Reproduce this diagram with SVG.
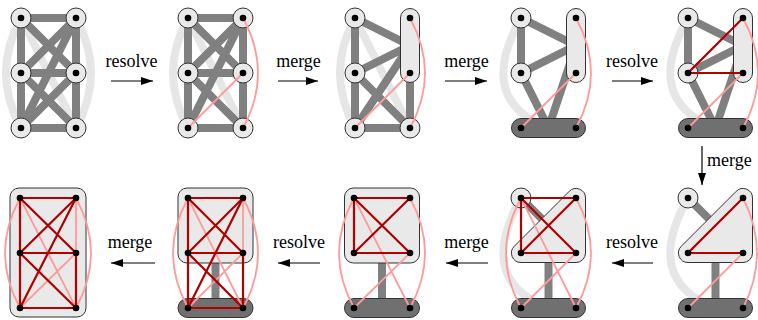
<svg xmlns="http://www.w3.org/2000/svg" width="758" height="320" viewBox="0 0 758 320">
<style>
.g{stroke:#808080;stroke-width:8;fill:none}
.lg{stroke:#e6e6e6;stroke-width:8;fill:none}
.pk{stroke:#ff9a9a;stroke-width:1.8;fill:none}
.rd{stroke:#b00000;stroke-width:2.2;fill:none}
.nd{fill:#e9e9e9;stroke:#333;stroke-width:1}
.dk{fill:#707070;stroke:#333;stroke-width:1}
.dot{fill:#000}
.ar{stroke:#000;stroke-width:1.2;fill:none}
.lb{font-family:"Liberation Serif","Times New Roman",serif;font-size:18px;fill:#000}
</style>
<defs>
<marker id="ah" markerWidth="12" markerHeight="8" refX="12" refY="4" orient="auto" markerUnits="userSpaceOnUse"><path d="M0,0 L12,4 L0,8 Z" fill="#000"/></marker>
</defs>

<!-- labels and arrows -->
<g id="steps">
<text class="lb" x="131.5" y="67" text-anchor="middle">resolve</text>
<line class="ar" x1="111" y1="81" x2="153" y2="81" marker-end="url(#ah)"/>
<text class="lb" x="298.5" y="67" text-anchor="middle">merge</text>
<line class="ar" x1="278" y1="81" x2="318" y2="81" marker-end="url(#ah)"/>
<text class="lb" x="466.5" y="67" text-anchor="middle">merge</text>
<line class="ar" x1="445" y1="81" x2="487" y2="81" marker-end="url(#ah)"/>
<text class="lb" x="632" y="67" text-anchor="middle">resolve</text>
<line class="ar" x1="612" y1="81" x2="653" y2="81" marker-end="url(#ah)"/>
<text class="lb" x="707" y="166">merge</text>
<line class="ar" x1="702" y1="146" x2="702" y2="185" marker-end="url(#ah)"/>
<text class="lb" x="632" y="248" text-anchor="middle">resolve</text>
<line class="ar" x1="653" y1="263" x2="612" y2="263" marker-end="url(#ah)"/>
<text class="lb" x="466.5" y="248" text-anchor="middle">merge</text>
<line class="ar" x1="488" y1="263" x2="446" y2="263" marker-end="url(#ah)"/>
<text class="lb" x="299" y="248" text-anchor="middle">resolve</text>
<line class="ar" x1="320" y1="263" x2="278" y2="263" marker-end="url(#ah)"/>
<text class="lb" x="130" y="248" text-anchor="middle">merge</text>
<line class="ar" x1="155" y1="263" x2="111" y2="263" marker-end="url(#ah)"/>
</g>

<!-- Panel 1 -->
<g id="p1-edges">
<path class="lg" d="M21,18 Q-9,73 21,128"/>
<path class="lg" d="M76,18 Q106,73 76,128"/>
<path class="lg" d="M21,18 L76,128"/>
<path class="g" d="M21,18 L76,18 M21,18 L21,128 M76,18 L76,128 M21,128 L76,128 M21,73 L76,73 M21,18 L76,73 M76,18 L21,73 M21,73 L76,128 M76,73 L21,128 M76,18 L21,128"/>
</g>
<g id="p1-TL"><circle class="nd" cx="21" cy="18" r="10"/><circle class="dot" cx="21" cy="18" r="3.3"/></g>
<g id="p1-TR"><circle class="nd" cx="76" cy="18" r="10"/><circle class="dot" cx="76" cy="18" r="3.3"/></g>
<g id="p1-ML"><circle class="nd" cx="21" cy="73" r="10"/><circle class="dot" cx="21" cy="73" r="3.3"/></g>
<g id="p1-MR"><circle class="nd" cx="76" cy="73" r="10"/><circle class="dot" cx="76" cy="73" r="3.3"/></g>
<g id="p1-BL"><circle class="nd" cx="21" cy="128" r="10"/><circle class="dot" cx="21" cy="128" r="3.3"/></g>
<g id="p1-BR"><circle class="nd" cx="76" cy="128" r="10"/><circle class="dot" cx="76" cy="128" r="3.3"/></g>

<!-- Panel 2 -->
<g id="p2-edges">
<path class="lg" d="M188,18 Q158,73 188,128"/>
<path class="lg" d="M188,18 L243,128"/>
<path class="g" d="M188,18 L243,18 M188,18 L188,128 M243,18 L243,128 M188,128 L243,128 M188,73 L243,73 M188,18 L243,73 M243,18 L188,73 M188,73 L243,128 M243,18 L188,128"/>
</g>
<g id="p2-TL"><circle class="nd" cx="188" cy="18" r="10"/></g>
<g id="p2-TR"><circle class="nd" cx="243" cy="18" r="10"/></g>
<g id="p2-ML"><circle class="nd" cx="188" cy="73" r="10"/></g>
<g id="p2-MR"><circle class="nd" cx="243" cy="73" r="10"/></g>
<g id="p2-BL"><circle class="nd" cx="188" cy="128" r="10"/></g>
<g id="p2-BR"><circle class="nd" cx="243" cy="128" r="10"/></g>
<g id="p2-resolved">
<path class="pk" d="M243,73 L188,128"/>
<path class="pk" d="M243,18 Q273,73 243,128"/>
</g>
<g id="p2-dots" class="dot"><circle cx="188" cy="18" r="3.3"/><circle cx="243" cy="18" r="3.3"/><circle cx="188" cy="73" r="3.3"/><circle cx="243" cy="73" r="3.3"/><circle cx="188" cy="128" r="3.3"/><circle cx="243" cy="128" r="3.3"/></g>

<!-- Panel 3 -->
<g id="p3-edges">
<path class="lg" d="M355,18 Q325,73 355,128"/>
<path class="lg" d="M355,18 L410,128"/>
<path class="g" d="M355,18 L410,45.5 M355,73 L410,45.5 M355,128 L410,45.5 M410,128 L410,45.5 M355,18 L355,128 M355,128 L410,128 M355,73 L410,128"/>
</g>
<g id="p3-TL"><circle class="nd" cx="355" cy="18" r="10"/></g>
<g id="p3-ML"><circle class="nd" cx="355" cy="73" r="10"/></g>
<g id="p3-BL"><circle class="nd" cx="355" cy="128" r="10"/></g>
<g id="p3-BR"><circle class="nd" cx="410" cy="128" r="10"/></g>
<g id="p3-R"><rect class="nd" x="400.5" y="8.5" width="19" height="74" rx="9.5"/></g>
<g id="p3-resolved">
<path class="pk" d="M410,73 L355,128"/>
<path class="pk" d="M410,18 Q440,73 410,128"/>
</g>
<g id="p3-dots" class="dot"><circle cx="355" cy="18" r="3.3"/><circle cx="410" cy="18" r="3.3"/><circle cx="355" cy="73" r="3.3"/><circle cx="410" cy="73" r="3.3"/><circle cx="355" cy="128" r="3.3"/><circle cx="410" cy="128" r="3.3"/></g>

<!-- Panel 4 -->
<g id="p4-edges">
<path class="lg" d="M521,18 Q475,100 548.5,128"/>
<path class="g" d="M521,18 L521,73 M521,18 L576,45.5 M521,73 L576,45.5 M521,73 L548.5,128 M576,45.5 L548.5,128"/>
</g>
<g id="p4-TL"><circle class="nd" cx="521" cy="18" r="10"/></g>
<g id="p4-ML"><circle class="nd" cx="521" cy="73" r="10"/></g>
<g id="p4-R"><rect class="nd" x="566.5" y="8.5" width="19" height="74" rx="9.5"/></g>
<g id="p4-B"><rect class="dk" x="511.5" y="118.5" width="74" height="19" rx="9.5"/></g>
<g id="p4-resolved">
<path class="pk" d="M576,73 L521,128"/>
<path class="pk" d="M576,18 Q606,73 576,128"/>
</g>
<g id="p4-dots" class="dot"><circle cx="521" cy="18" r="3.3"/><circle cx="576" cy="18" r="3.3"/><circle cx="521" cy="73" r="3.3"/><circle cx="576" cy="73" r="3.3"/><circle cx="521" cy="128" r="3.3"/><circle cx="576" cy="128" r="3.3"/></g>

<!-- Panel 5 -->
<g id="p5-edges">
<path class="lg" d="M688,18 Q642,100 715.5,128"/>
<path class="g" d="M688,18 L688,73 M688,18 L743,45.5 M688,73 L743,45.5 M688,73 L715.5,128 M743,45.5 L715.5,128"/>
</g>
<g id="p5-TL"><circle class="nd" cx="688" cy="18" r="10"/></g>
<g id="p5-ML"><circle class="nd" cx="688" cy="73" r="10"/></g>
<g id="p5-R"><rect class="nd" x="733.5" y="8.5" width="19" height="74" rx="9.5"/></g>
<g id="p5-B"><rect class="dk" x="678.5" y="118.5" width="74" height="19" rx="9.5"/></g>
<g id="p5-resolved">
<path class="pk" d="M743,73 L688,128"/>
<path class="pk" d="M743,18 Q773,73 743,128"/>
<path class="rd" d="M743,18 L688,73 L743,73"/>
</g>
<g id="p5-dots" class="dot"><circle cx="688" cy="18" r="3.3"/><circle cx="743" cy="18" r="3.3"/><circle cx="688" cy="73" r="3.3"/><circle cx="743" cy="73" r="3.3"/><circle cx="688" cy="128" r="3.3"/><circle cx="743" cy="128" r="3.3"/></g>

<!-- Panel 6 -->
<g id="p6-edges">
<path class="lg" d="M688,198 Q642,280 715.5,308"/>
<path class="g" d="M688,198 L724.7,234.7 M715.5,253 L715.5,308"/>
</g>
<g id="p6-TL"><circle class="nd" cx="688" cy="198" r="10"/></g>
<g id="p6-T"><path class="nd" d="M736.28,191.28 A9.5,9.5 0 0 1 752.5,198 L752.5,253 A9.5,9.5 0 0 1 743,262.5 L688,262.5 A9.5,9.5 0 0 1 681.28,246.28 Z"/></g>
<g id="p6-B"><rect class="dk" x="678.5" y="298.5" width="74" height="19" rx="9.5"/></g>
<g id="p6-resolved">
<path class="pk" d="M743,253 L688,308"/>
<path class="pk" d="M743,198 Q771,253 743,308"/>
<path class="rd" d="M743,198 L688,253 L743,253"/>
</g>
<g id="p6-dots" class="dot"><circle cx="688" cy="198" r="3.3"/><circle cx="743" cy="198" r="3.3"/><circle cx="688" cy="253" r="3.3"/><circle cx="743" cy="253" r="3.3"/><circle cx="688" cy="308" r="3.3"/><circle cx="743" cy="308" r="3.3"/></g>

<!-- Panel 7 -->
<g id="p7-edges">
<path class="lg" d="M521,198 Q475,280 548.5,308"/>
<path class="g" d="M521,198 L557.7,234.7 M548.5,253 L548.5,308"/>
</g>
<g id="p7-T"><path class="nd" d="M569.28,191.28 A9.5,9.5 0 0 1 585.5,198 L585.5,253 A9.5,9.5 0 0 1 576,262.5 L521,262.5 A9.5,9.5 0 0 1 514.28,246.28 Z"/></g>
<g id="p7-TL"><circle class="nd" cx="521" cy="198" r="10"/></g>
<g id="p7-B"><rect class="dk" x="511.5" y="298.5" width="74" height="19" rx="9.5"/></g>
<g id="p7-resolved">
<path class="pk" d="M521,198 Q491,253 521,308"/>
<path class="pk" d="M576,198 Q606,253 576,308"/>
<path class="pk" d="M521,198 L576,308 M576,253 L521,308"/>
<path class="rd" d="M521,198 L576,198 M521,198 L521,253 M521,198 L576,253 M576,198 L521,253 M521,253 L576,253"/>
</g>
<g id="p7-dots" class="dot"><circle cx="521" cy="198" r="3.3"/><circle cx="576" cy="198" r="3.3"/><circle cx="521" cy="253" r="3.3"/><circle cx="576" cy="253" r="3.3"/><circle cx="521" cy="308" r="3.3"/><circle cx="576" cy="308" r="3.3"/></g>

<!-- Panel 8 -->
<g id="p8-edges">
<path class="g" d="M382,253 L382,308"/>
</g>
<g id="p8-T"><rect class="nd" x="344.5" y="188" width="75" height="75" rx="9"/></g>
<g id="p8-B"><rect class="dk" x="344.5" y="298.5" width="75" height="19" rx="9.5"/></g>
<g id="p8-resolved">
<path class="pk" d="M354,198 Q324,253 354,308"/>
<path class="pk" d="M410,198 Q440,253 410,308"/>
<path class="pk" d="M354,198 L410,308 M410,253 L354,308"/>
<path class="rd" d="M354,198 L410,198 M354,198 L354,253 M354,198 L410,253 M410,198 L354,253 M354,253 L410,253"/>
</g>
<g id="p8-dots" class="dot"><circle cx="354" cy="198" r="3.3"/><circle cx="410" cy="198" r="3.3"/><circle cx="354" cy="253" r="3.3"/><circle cx="410" cy="253" r="3.3"/><circle cx="354" cy="308" r="3.3"/><circle cx="410" cy="308" r="3.3"/></g>

<!-- Panel 9 -->
<g id="p9-edges">
<path class="g" d="M215.5,253 L215.5,308"/>
</g>
<g id="p9-T"><rect class="nd" x="178" y="188" width="75" height="75" rx="9"/></g>
<g id="p9-B"><rect class="dk" x="178" y="298.5" width="75" height="19" rx="9.5"/></g>
<g id="p9-resolved">
<path class="pk" d="M188,198 Q158,253 188,308"/>
<path class="pk" d="M243,198 Q273,253 243,308"/>
<path class="pk" d="M188,198 L243,308 M243,253 L188,308 M243,198 L243,253"/>
<path class="rd" d="M188,198 L243,198 M188,198 L188,308 M188,198 L243,253 M243,198 L188,253 M188,253 L243,253 M243,198 L188,308 M188,253 L243,308 M243,253 L243,308 M188,308 L243,308"/>
</g>
<g id="p9-dots" class="dot"><circle cx="188" cy="198" r="3.3"/><circle cx="243" cy="198" r="3.3"/><circle cx="188" cy="253" r="3.3"/><circle cx="243" cy="253" r="3.3"/><circle cx="188" cy="308" r="3.3"/><circle cx="243" cy="308" r="3.3"/></g>

<!-- Panel 10 -->
<g id="p10-all"><rect class="nd" x="10" y="188" width="76" height="129" rx="9"/></g>
<g id="p10-edges">
<path class="pk" d="M20,198 Q-10,253 20,308"/>
<path class="pk" d="M76,198 Q106,253 76,308"/>
<path class="pk" d="M20,198 L76,308 M76,253 L20,308 M76,198 L76,253"/>
<path class="rd" d="M20,198 L76,198 M20,198 L20,308 M20,198 L76,253 M76,198 L20,253 M20,253 L76,253 M76,198 L20,308 M20,253 L76,308 M76,253 L76,308 M20,308 L76,308"/>
</g>
<g id="p10-dots" class="dot"><circle cx="20" cy="198" r="3.3"/><circle cx="76" cy="198" r="3.3"/><circle cx="20" cy="253" r="3.3"/><circle cx="76" cy="253" r="3.3"/><circle cx="20" cy="308" r="3.3"/><circle cx="76" cy="308" r="3.3"/></g>
</svg>
